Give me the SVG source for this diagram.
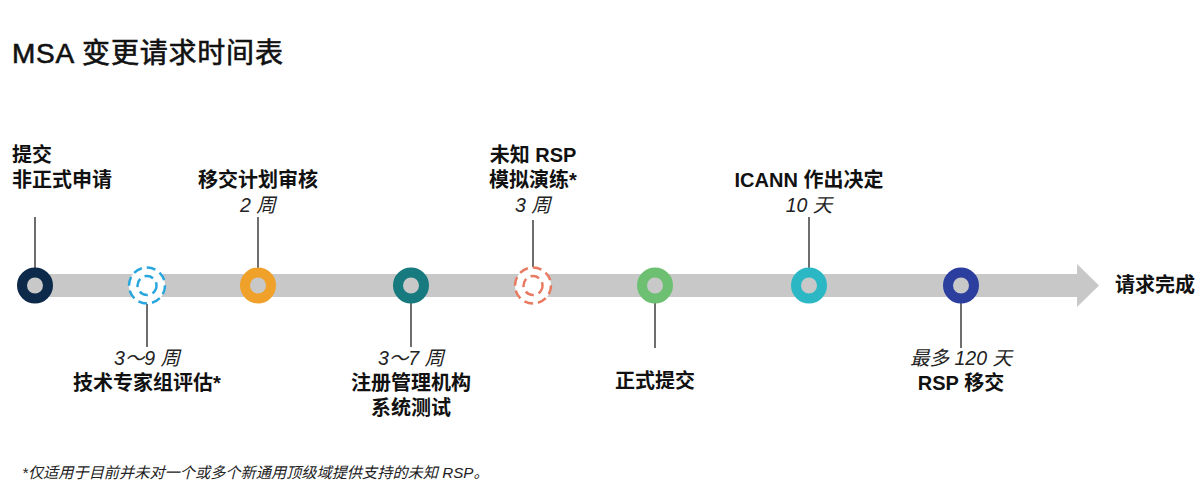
<svg xmlns="http://www.w3.org/2000/svg" width="1198" height="501" viewBox="0 0 1198 501">
<style>
text{font-family:"Liberation Sans","Noto Sans CJK SC",sans-serif;fill:#111}
.t{font-size:28px;stroke:#111;stroke-width:0.6;letter-spacing:0.8px}
.b{font-size:20px;font-weight:bold}
.i{font-size:19.5px;font-style:italic;fill:#222}
.f{font-size:15.2px;font-style:italic;fill:#222}
.m{text-anchor:middle}
.ring{fill:#c8c8c8;stroke-width:10}
.dash{fill:#fff;stroke-width:2.5;stroke-dasharray:9 5}
.ln{stroke:#6e6e6e;stroke-width:2}
</style>
<rect width="1198" height="501" fill="#fff"/>
<text class="t" x="12" y="63">MSA 变更请求时间表</text>
<g id="bar"><polygon points="35,274 1077,274 1077,264 1099,285.5 1077,307 1077,297 35,297" fill="#c8c8c8"/></g>
<g id="connectors">
<line class="ln" x1="35" y1="217" x2="35" y2="268"/>
<line class="ln" x1="147" y1="304" x2="147" y2="347"/>
<line class="ln" x1="258" y1="217" x2="258" y2="268"/>
<line class="ln" x1="411" y1="303" x2="411" y2="347"/>
<line class="ln" x1="533" y1="220" x2="533" y2="267"/>
<line class="ln" x1="655" y1="303" x2="655" y2="348"/>
<line class="ln" x1="809" y1="217" x2="809" y2="268"/>
<line class="ln" x1="961" y1="303" x2="961" y2="348"/>
</g>
<g id="n1"><circle class="ring" cx="35" cy="285.5" r="13" stroke="#0e2a4b"/>
<text class="b" x="12" y="162">提交</text><text class="b" x="12" y="187">非正式申请</text></g>
<g id="n2"><circle class="dash" cx="147" cy="285.5" r="18" stroke="#2aa6df"/><circle class="dash" cx="147" cy="285.5" r="9.5" stroke="#2aa6df"/>
<text class="i m" x="147" y="365">3～9 周</text><text class="b m" x="147" y="390">技术专家组评估*</text></g>
<g id="n3"><circle class="ring" cx="258" cy="285.5" r="13" stroke="#f0a12a"/>
<text class="b m" x="258" y="187">移交计划审核</text><text class="i m" x="258" y="212">2 周</text></g>
<g id="n4"><circle class="ring" cx="411" cy="285.5" r="13" stroke="#177a7e"/>
<text class="i m" x="411" y="365">3～7 周</text><text class="b m" x="411" y="390">注册管理机构</text><text class="b m" x="411" y="415">系统测试</text></g>
<g id="n5"><circle class="dash" cx="533" cy="285.5" r="18" stroke="#e87a62"/><circle class="dash" cx="533" cy="285.5" r="9.5" stroke="#e87a62"/>
<text class="b m" x="533" y="162">未知 RSP</text><text class="b m" x="533" y="187">模拟演练*</text><text class="i m" x="533" y="212">3 周</text></g>
<g id="n6"><circle class="ring" cx="655" cy="285.5" r="13" stroke="#6dc072"/>
<text class="b m" x="655" y="388">正式提交</text></g>
<g id="n7"><circle class="ring" cx="809" cy="285.5" r="13" stroke="#2bb8c4"/>
<text class="b m" x="809" y="187">ICANN 作出决定</text><text class="i m" x="809" y="212">10 天</text></g>
<g id="n8"><circle class="ring" cx="961" cy="285.5" r="13" stroke="#2c3e9e"/>
<text class="i m" x="961" y="365">最多 120 天</text><text class="b m" x="961" y="390">RSP 移交</text></g>
<g id="end"><text class="b" x="1115" y="292">请求完成</text></g>
<text class="f" x="22" y="478">*仅适用于目前并未对一个或多个新通用顶级域提供支持的未知 RSP。</text>
</svg>
